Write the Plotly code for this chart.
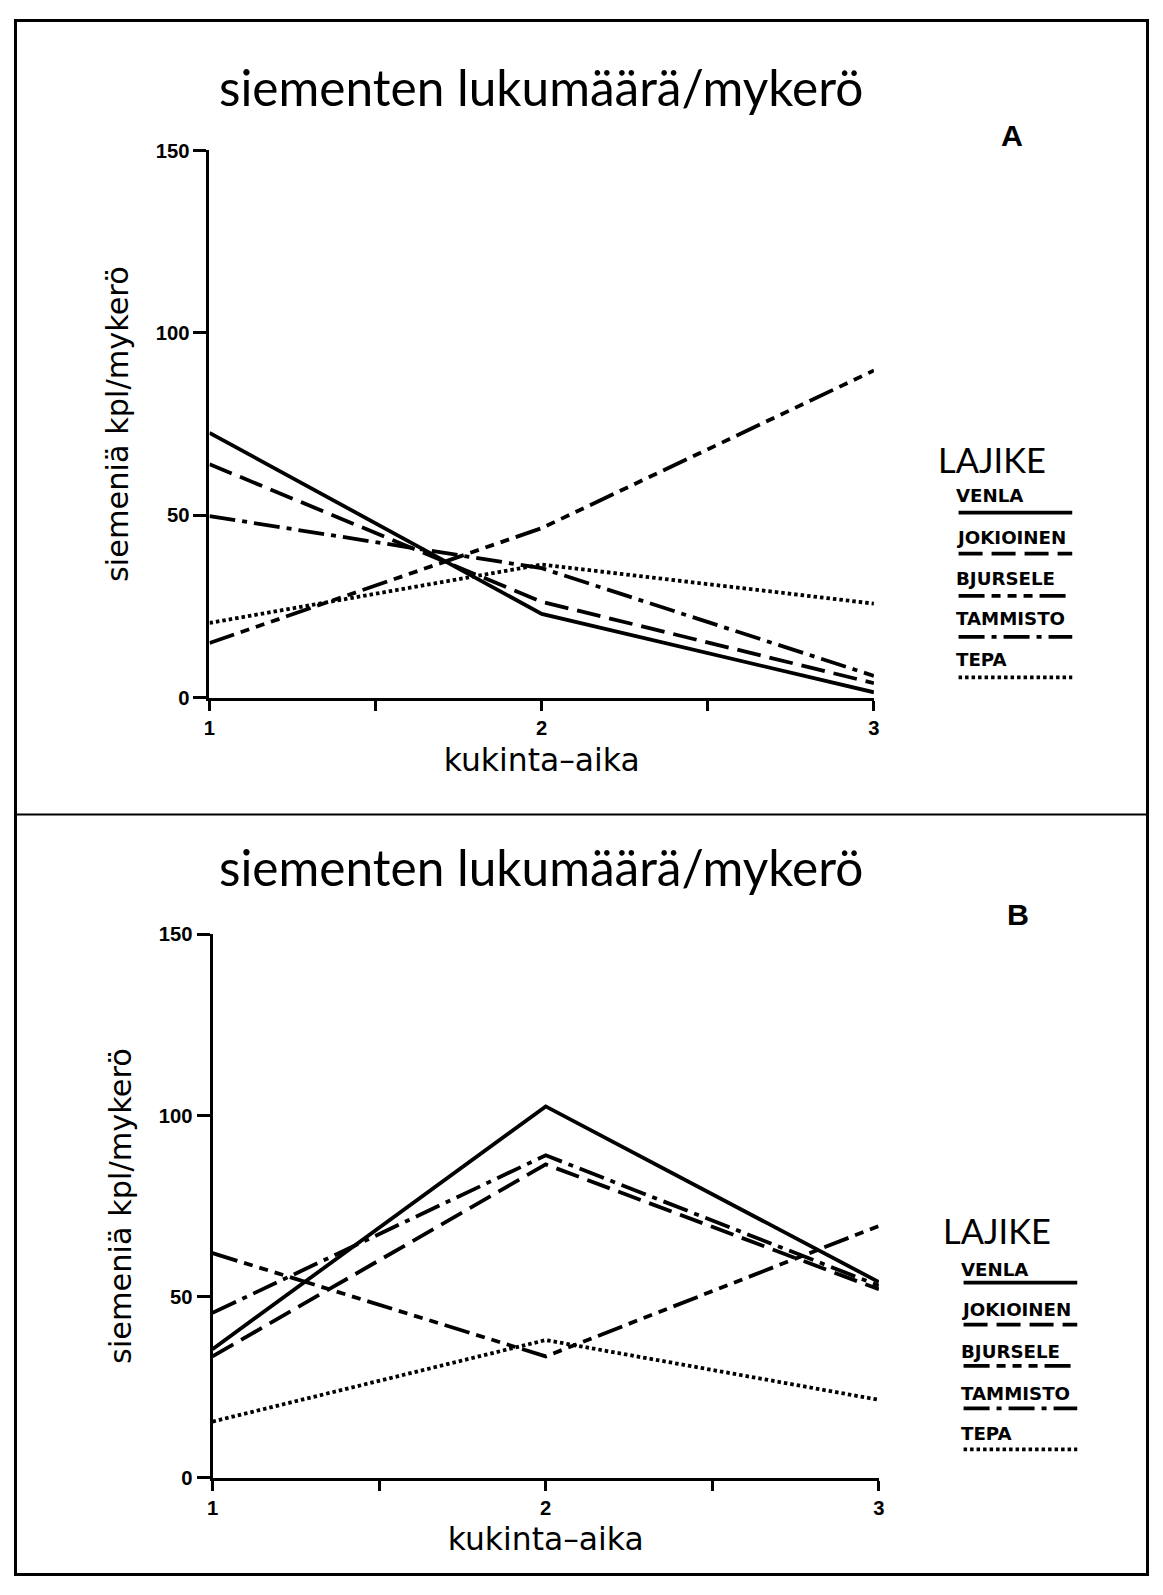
import plotly.graph_objects as go

W, H = 1163, 1595
OFF = 8                      # default page body margin
FW, FH = W - 2 * OFF, H - 2 * OFF
# empirical page -> picture mapping (picture = S*page + T)
S, TX, TY = 0.988, 5.5, 9.0

# ---- data ----
times = [1, 2, 3]
series_names = ["VENLA", "JOKIOINEN", "BJURSELE", "TAMMISTO", "TEPA"]

venla_A = [72.6, 23.0, 1.5]
jokioinen_A = [64.0, 26.3, 4.0]
bjursele_A = [15.0, 46.5, 89.7]
tammisto_A = [49.8, 35.5, 6.0]
tepa_A = [20.5, 36.5, 25.8]

venla_B = [35.5, 102.5, 54.0]
jokioinen_B = [33.5, 86.5, 52.0]
bjursele_B = [62.0, 33.5, 69.5]
tammisto_B = [45.5, 89.0, 53.0]
tepa_B = [15.5, 38.0, 21.5]

x_tickvals = [1, 1.5, 2, 2.5, 3]
x_ticktext = ["1", "", "2", "", "3"]
y_tickvals = [0, 50, 100, 150]
y_ticktext = ["0", "50", "100", "150"]

title_text = "siementen lukumäärä/mykerö"
x_title = "kukinta\u2013aika"
y_title = "siemeniä kpl/mykerö"
legend_title = "LAJIKE"
panel_labels = ["A", "B"]

# ---- styles ----
dashes = {
    "VENLA": "solid",
    "JOKIOINEN": "24px,9px",
    "BJURSELE": "26px,7px,9px,7px,9px,7px,9px,7px",
    "TAMMISTO": "26px,7px,5px,7px",
    "TEPA": "3.5px,3px",
}
widths = {"VENLA": 3.8, "JOKIOINEN": 3.8, "BJURSELE": 3.8, "TAMMISTO": 3.8, "TEPA": 3.8}


def clamp(v, lo, hi):
    return max(lo, min(hi, v))


def px(x):
    page = (x - TX) / S
    return clamp((page - OFF) / FW, 1.5 / FW, 1 - 1.5 / FW)


def py(y):
    page = (y - TY) / S
    return clamp(1 - (page - OFF) / FH, 1.5 / FH, 1 - 1.5 / FH)


def fs(v):
    return v / S


fig = go.Figure()

data_A = [venla_A, jokioinen_A, bjursele_A, tammisto_A, tepa_A]
data_B = [venla_B, jokioinen_B, bjursele_B, tammisto_B, tepa_B]

for name, vals in zip(series_names, data_A):
    fig.add_trace(go.Scatter(x=times, y=vals, mode="lines", name=name, showlegend=False,
                             line=dict(color="black", width=widths[name], dash=dashes[name]),
                             xaxis="x", yaxis="y"))
for name, vals in zip(series_names, data_B):
    fig.add_trace(go.Scatter(x=times, y=vals, mode="lines", name=name, showlegend=False,
                             line=dict(color="black", width=widths[name], dash=dashes[name]),
                             xaxis="x2", yaxis="y2"))

tickfont = dict(family="Liberation Sans", size=fs(20), color="black", weight="bold")

xcommon = dict(range=[1, 3], tickvals=x_tickvals, ticktext=x_ticktext, ticks="outside",
               ticklen=10, tickwidth=2.5, tickcolor="black", showline=True, linewidth=3,
               linecolor="black", showgrid=False, zeroline=False, tickfont=tickfont,
               title=dict(text=x_title, font=dict(family="DejaVu Sans", size=fs(31), color="black"),
                          standoff=11))
ycommon = dict(range=[0, 150], tickvals=y_tickvals, ticktext=y_ticktext, ticks="outside",
               ticklen=13, tickwidth=2.5, tickcolor="black", showline=True, linewidth=3,
               linecolor="black", showgrid=False, zeroline=False, tickfont=tickfont,
               title=dict(text=y_title, font=dict(family="DejaVu Sans", size=fs(30), color="black"),
                          standoff=19))

fig.update_layout(
    width=FW, height=FH,
    margin=dict(l=0, r=0, t=0, b=0),
    paper_bgcolor="white", plot_bgcolor="white",
    xaxis=dict(domain=[px(208.6), px(872)], anchor="y", **xcommon),
    yaxis=dict(domain=[py(697), py(148.6)], anchor="x", **ycommon),
    xaxis2=dict(domain=[px(211.6), px(877)], anchor="y2", **xcommon),
    yaxis2=dict(domain=[py(1478.5), py(934)], anchor="x2", **ycommon),
)

annotations = []
shapes = []

# Frame
shapes.append(dict(type="rect", xref="paper", yref="paper", x0=px(7), x1=px(1161),
                   y0=py(1583), y1=py(5), line=dict(color="black", width=3)))
shapes.append(dict(type="line", xref="paper", yref="paper", x0=px(7), x1=px(1161),
                   y0=py(814), y1=py(814), line=dict(color="black", width=2)))

panels = [
    dict(title_y=85.5, label_xy=(1010, 134), lajike_xy=(934, 458),
         text_ys=[494, 536, 578, 617.6, 659], line_ys=[511.5, 552.5, 595, 636, 676.6],
         x0=956.5, x1=1070),
    dict(title_y=866.5, label_xy=(1015.5, 914), lajike_xy=(939, 1231),
         text_ys=[1270, 1309.5, 1352, 1394, 1434], line_ys=[1283, 1325, 1366.5, 1409, 1450],
         x0=961.5, x1=1075),
]
TEXT_SHIFT = -5

for p, lab in zip(panels, panel_labels):
    annotations.append(dict(text=title_text, x=px(540), y=py(p["title_y"]), xref="paper", yref="paper",
                            showarrow=False, xanchor="center", yanchor="middle",
                            font=dict(family="Lato", size=fs(49), color="black")))
    annotations.append(dict(text=lab, x=px(p["label_xy"][0]), y=py(p["label_xy"][1]), xref="paper",
                            yref="paper", showarrow=False, xanchor="center", yanchor="middle",
                            font=dict(family="Liberation Sans", size=fs(30), color="black", weight="bold")))
    annotations.append(dict(text=legend_title, x=px(p["lajike_xy"][0]), y=py(p["lajike_xy"][1]),
                            xref="paper", yref="paper", showarrow=False, xanchor="left", yanchor="middle",
                            font=dict(family="Lato", size=fs(34), color="black")))
    for name, ty, ly in zip(series_names, p["text_ys"], p["line_ys"]):
        annotations.append(dict(text=name, x=px(p["x0"] + TEXT_SHIFT), y=py(ty), xref="paper", yref="paper",
                                showarrow=False, xanchor="left", yanchor="middle",
                                font=dict(family="DejaVu Sans", size=fs(18), color="black", weight="bold")))
        shapes.append(dict(type="line", xref="paper", yref="paper", x0=px(p["x0"]), x1=px(p["x1"]),
                           y0=py(ly), y1=py(ly),
                           line=dict(color="black", width=widths[name], dash=dashes[name])))

fig.update_layout(annotations=annotations, shapes=shapes)

fig.write_html("out.html")
